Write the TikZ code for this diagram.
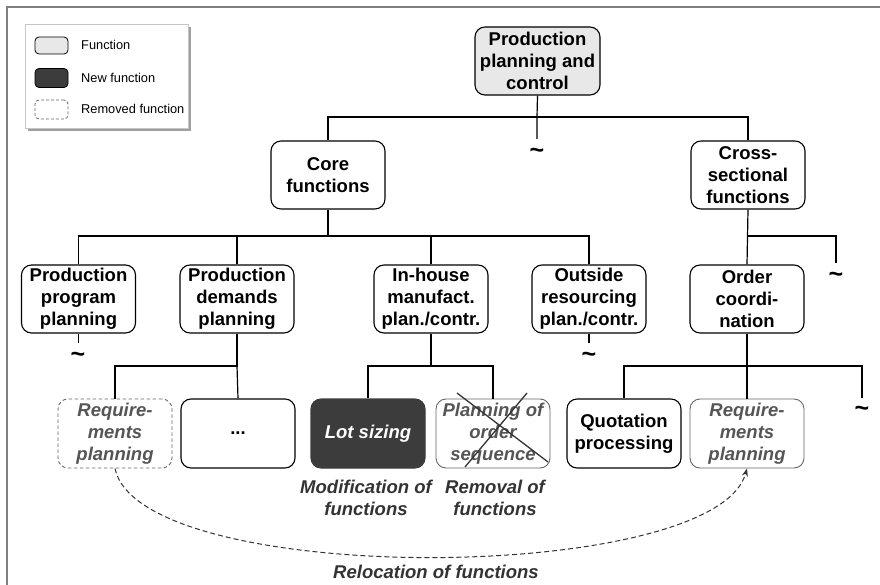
\documentclass[tikz,border=0pt]{standalone}
\usepackage{fontspec}
\setmainfont{Liberation Sans}
\usetikzlibrary{arrows.meta}
\definecolor{fnfill}{HTML}{E8E8E8}
\definecolor{newfill}{HTML}{3C3C3C}
\definecolor{softtext}{HTML}{555555}
\definecolor{softline}{HTML}{666666}
\definecolor{labeltext}{HTML}{333333}
\begin{document}
\begin{tikzpicture}[x=1pt,y=-1pt,
  fnbox/.style={draw=black, line width=1.1pt, rounded corners=10pt, align=center,
    minimum width=114pt, minimum height=68pt, inner sep=0pt,
    font=\fontsize{18.5}{22}\selectfont\bfseries},
  newbox/.style={fnbox, draw=newfill, fill=newfill, text=white,
    font=\fontsize{18.5}{22}\selectfont\bfseries\itshape},
  movedbox/.style={fnbox, draw=softline, line width=0.9pt, text=softtext,
    font=\fontsize{18.5}{22}\selectfont\bfseries\itshape},
  removedbox/.style={movedbox, dashed, dash pattern=on 3.5pt off 2.5pt},
  link/.style={draw=black, line width=1.2pt},
  tildemark/.style={inner sep=0pt, font=\fontsize{25}{25}\selectfont\bfseries},
  effect/.style={align=center, text=labeltext, inner sep=0pt,
    font=\fontsize{18.5}{22}\selectfont\bfseries\itshape},
  legendtext/.style={anchor=west, inner sep=0pt, font=\fontsize{12.8}{15}\selectfont},
  swatch/.style={draw=black, line width=0.8pt, rounded corners=4pt,
    minimum width=33pt, minimum height=17pt, inner sep=0pt}
]
\useasboundingbox (0,0) rectangle (880,585);

% outer frame (top and left edges)
\draw[gray, line width=1.5pt] (7,585) -- (7,7) -- (880,7);

% legend with shadow
\fill[gray!75] (28,27) rectangle (191,131);
\draw[gray!45, fill=white, line width=0.8pt] (25,24) rectangle (188,128);
\node[swatch, fill=fnfill] (lg1) at (51.5,45.5) {};
\node[swatch, fill=newfill, minimum height=19pt] (lg2) at (51.5,78) {};
\node[swatch, draw=softline, dashed, dash pattern=on 3pt off 2pt, minimum height=19pt] (lg3) at (51.5,109.5) {};
\node[legendtext] (lt1) at (81,45) {Function};
\node[legendtext] (lt2) at (81,78) {New function};
\node[legendtext] (lt3) at (81,109) {Removed function};

% level 0
\node[fnbox, fill=fnfill, minimum width=125pt] (ppc) at (537.5,61) {Production\\planning and\\control};

% level 1
\node[fnbox] (core) at (328,175) {Core\\functions};
\node[fnbox] (cross) at (748,175) {Cross-\\sectional\\functions};

% level 2
\node[fnbox] (ppp) at (78.5,299) {Production\\program\\planning};
\node[fnbox] (pdp) at (237,299) {Production\\demands\\planning};
\node[fnbox] (ihm) at (431,299) {In-house\\manufact.\\plan./contr.};
\node[fnbox] (osr) at (589,299) {Outside\\resourcing\\plan./contr.};
\node[fnbox] (ord) at (747,299) {Order\\coordi-\\nation};

% level 3
\node[removedbox, minimum height=69pt] (rq1) at (115,433.5) {Require-\\ments\\planning};
\node[fnbox, minimum height=69pt] (dots) at (238,433.5) {...};
\node[newbox, minimum height=69pt] (lot) at (368,433.5) {Lot sizing};
\node[movedbox, minimum height=69pt] (pos) at (493,433.5) {Planning of\\order\\sequence};
\node[fnbox, minimum height=69pt] (quo) at (624,433.5) {Quotation\\processing};
\node[movedbox, minimum height=69pt] (rq2) at (747,433.5) {Require-\\ments\\planning};

% omitted branches
\node[tildemark] (t0) at (537,153) {\textasciitilde};
\node[tildemark] (t1) at (836,277) {\textasciitilde};
\node[tildemark] (t2) at (78,357) {\textasciitilde};
\node[tildemark] (t3) at (589,357) {\textasciitilde};
\node[tildemark] (t4) at (862,411) {\textasciitilde};

% branching levels
\coordinate (b0) at (537,117);
\coordinate (b1) at (328,236);
\coordinate (b2) at (237,366);

% connectors: level 0 -> 1
\draw[link] (core.north) -- (core.north |- b0) -- (cross.north |- b0) -- (cross.north);
\draw[link] (ppc.south) -- (b0) -- (b0 |- 0,139);

% connectors: level 1 -> 2
\draw[link] (ppp.north) -- (ppp.north |- b1) -- (osr.north |- b1) -- (osr.north);
\draw[link] (core.south) -- (core.south |- b1);
\draw[link] (pdp.north) -- (pdp.north |- b1);
\draw[link] (ihm.north) -- (ihm.north |- b1);
\draw[link] (cross.south) -- (ord.north);
\draw[link] (cross.south |- b1) -- (t1.north |- b1) -- (t1.north |- 0,263);

% connectors: level 2 -> 3
\draw[link] (pdp.south) -- (b2) -- (rq1.north |- b2) -- (rq1.north);
\draw[link] (b2) -- (dots.north);
\draw[link] (ihm.south) -- (ihm.south |- b2);
\draw[link] (lot.north) -- (lot.north |- b2) -- (pos.north |- b2) -- (pos.north);
\draw[link] (ord.south) -- (rq2.north);
\draw[link] (quo.north) -- (quo.north |- b2) -- (t4.north |- b2) -- (t4.north |- 0,398);
\draw[link] (ppp.south) -- (ppp.south |- 0,343);
\draw[link] (osr.south) -- (osr.south |- 0,343);

% removal cross
\draw[labeltext, line width=1.3pt] (457,393) -- (548,462);
\draw[labeltext, line width=1.3pt] (527,393) -- (465,467);

% relocation arrow
\draw[labeltext, line width=1pt, dash pattern=on 5pt off 3pt, -{Stealth[length=8pt,width=6pt]}]
  (rq1.south) .. controls (140,588) and (715,585) .. (rq2.south);

% change labels
\node[effect] (mod) at (366,497.5) {Modification of\\functions};
\node[effect] (rem) at (495,497.5) {Removal of\\functions};
\node[effect] (rel) at (436,572) {Relocation of functions};
\end{tikzpicture}
\end{document}
